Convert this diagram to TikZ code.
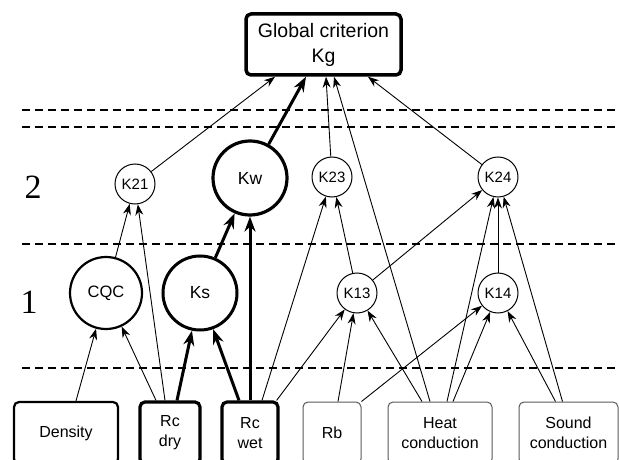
\documentclass[tikz,border=0pt]{standalone}
\usepackage{fontspec}
\setmainfont{Liberation Sans}
\newfontfamily\levelfont{Liberation Serif}
\usepackage{tikz}
\usetikzlibrary{arrows.meta,positioning,calc}

\begin{document}
\begin{tikzpicture}[
    x=1pt, y=-1pt,
    c1/.style={circle, draw, line width=1pt, inner sep=0pt, minimum size=40pt, font=\fontsize{15}{17}\selectfont},
    c2/.style={circle, draw, line width=2.2pt, inner sep=0pt, minimum size=72pt, font=\fontsize{16.5}{18}\selectfont},
    c3/.style={circle, draw, line width=3.2pt, inner sep=0pt, minimum size=74pt, font=\fontsize{17.5}{19}\selectfont},
    b1/.style={rectangle, draw=black!65, line width=1pt, rounded corners=5pt, align=center, minimum height=62pt, font=\fontsize{16}{20}\selectfont},
    b2/.style={b1, draw=black, line width=2.2pt},
    b3/.style={b1, draw=black, line width=3.2pt},
    lvl/.style={dashed, dash pattern=on 8pt off 5pt, line width=1.2pt},
    arr/.style={-{Stealth[length=11pt, width=8pt]}, line width=0.9pt},
    arrb/.style={-{Stealth[length=15pt, width=11pt]}, line width=3pt}
]
    \useasboundingbox (0,0) rectangle (619,460);

    % levels
    \draw [lvl] (22,110) -- (619,110);
    \draw [lvl] (22,127) -- (619,127);
    \draw [lvl] (22,244) -- (619,244);
    \draw [lvl] (22,368) -- (619,368);
    \node [font=\levelfont\fontsize{34}{34}\selectfont] (l2) at (33,187) {2};
    \node [font=\levelfont\fontsize{34}{34}\selectfont] (l1) at (29,302) {1};

    % top
    \node [b3, line width=3.5pt, minimum width=155pt, minimum height=61pt, font=\fontsize{19.5}{25}\selectfont] (kg) at (323.5,44.5) {Global criterion\\Kg};

    % level 2
    \node [c1] (k21) at (135,184) {K21};
    \node [c3] (kw) at (250,178) {Kw};
    \node [c1] (k23) at (332,177) {K23};
    \node [c1] (k24) at (498,177) {K24};

    % level 1
    \node [c2] (cqc) at (106,293) {CQC};
    \node [c3, line width=3pt] (ks) at (200,293) {Ks};
    \node [c1] (k13) at (357,293) {K13};
    \node [c1] (k14) at (498,293) {K14};

    % inputs
    \node [b2, minimum width=104pt] (dens) at (66,433) {Density};
    \node [b3, minimum width=60pt] (rcdry) at (170,433) {Rc\\dry};
    \node [b3, minimum width=56pt] (rcwet) at (250,433) {Rc\\wet};
    \node [b1, minimum width=58pt] (rb) at (332,433) {Rb};
    \node [b1, minimum width=104pt] (heat) at (440,433) {Heat\\conduction};
    \node [b1, minimum width=99pt] (sound) at (568.5,433) {Sound\\conduction};

    % inputs -> level 1
    \draw [arr] ([xshift=10pt]dens.north) -- (cqc);
    \draw [arr] ([xshift=-14pt]rcdry.north) -- (cqc);
    \draw [arrb] ([xshift=7pt]rcdry.north) -- (ks);
    \draw [arrb] ([xshift=-11pt]rcwet.north) -- (ks);
    \draw [arr] ([xshift=-3pt]rcwet.north east) -- (k13);
    \draw [arr] ([xshift=6pt]rb.north) -- (k13);
    \draw [arr] ([xshift=-18pt]heat.north) -- (k13);
    \draw [arr] (rb.north east) -- (k14);
    \draw [arr] ([xshift=13pt]heat.north) -- (k14);
    \draw [arr] ([xshift=-13pt]sound.north) -- (k14);

    % -> level 2
    \draw [arr] (cqc) -- (k21);
    \draw [arr] ([xshift=-5pt]rcdry.north) -- (k21);
    \draw [arrb] (ks) -- (kw);
    \draw [arrb] (rcwet.north) -- (kw);
    \draw [arr] ([xshift=12pt]rcwet.north) -- (k23);
    \draw [arr] (k13) -- (k23);
    \draw [arr] (k13) -- (k24);
    \draw [arr] (k14) -- (k24);
    \draw [arr] ([xshift=7pt]heat.north) -- (k24);
    \draw [arr] ([xshift=-6pt]sound.north) -- (k24);

    % -> global
    \draw [arr] (k21) -- ([xshift=-48.5pt]kg.south);
    \draw [arrb] (kw) -- ([xshift=-17.5pt]kg.south);
    \draw [arr] (k23) -- ([xshift=2.5pt]kg.south);
    \draw [arr] ([xshift=-10pt]heat.north) -- ([xshift=10.5pt]kg.south);
    \draw [arr] (k24) -- ([xshift=44.5pt]kg.south);
\end{tikzpicture}
\end{document}
